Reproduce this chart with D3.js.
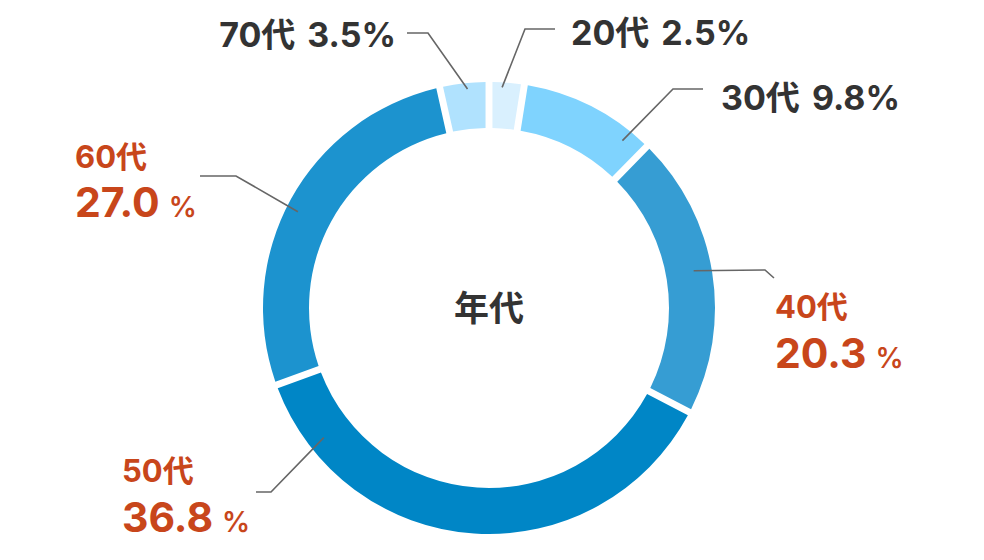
<!DOCTYPE html>
<html><head><meta charset="utf-8">
<script src="https://cdn.jsdelivr.net/npm/d3@7"></script>
<style>
html,body{margin:0;padding:0;background:#fff;}
svg{display:block;}
text{font-family:"Inter","Noto Sans CJK JP",sans-serif;font-weight:700;}
</style></head>
<body>
<svg id="chart" width="984" height="560"></svg>
<script>
// Data
const categories = ["20代","30代","40代","50代","60代","70代"];
const values = [2.5, 9.8, 20.3, 36.8, 27.0, 3.5];
const centerTitle = "年代";

// Styles / layout (kept apart from data)
const colors = ["#d9f0fe","#7fd3fe","#369dd3","#0086c6","#1c93cf","#b0e2fe"];
const highlight = [false,false,true,true,true,false];
const cx = 489, cy = 308, rOuter = 226, rInner = 180;
// per-label: leader anchor angle offset (deg) and radius, elbow, end, text position
const labelLayout = [
  {da:-1.1, r:221, elbow:[525,29], end:[555,29], tx:571, ty:45, anchor:"start"},
  {da:11.9, r:214, elbow:[673,89], end:[703,89], tx:721, ty:110, anchor:"start"},
  {da:-1.2, r:208, elbow:[765,270], end:[774,278], tx:775, ty:[318,368], anchor:"start"},
  {da:48.1, r:210, elbow:[271,492], end:[256,492], tx:122, ty:[482,532], anchor:"start"},
  {da:-2.0, r:214, elbow:[236,176], end:[200,176], tx:75, ty:[168,217], anchor:"start"},
  {da:0.7, r:220, elbow:[428,33], end:[407,33], tx:396, ty:47, anchor:"end"}
];

const svg = d3.select("#chart");
const g = svg.append("g").attr("transform", `translate(${cx},${cy})`);

const pie = d3.pie().sort(null).value(d => d);
const arcs = pie(values);
const arc = d3.arc().innerRadius(rInner).outerRadius(rOuter).padAngle(0.024);

g.selectAll("path.slice").data(arcs).join("path")
  .attr("class","slice")
  .attr("d", arc)
  .attr("fill", (d,i) => colors[i]);

// leader lines
const lineGen = d3.line();
arcs.forEach((a,i) => {
  const L = labelLayout[i];
  const ang = (a.startAngle + a.endAngle)/2 + L.da*Math.PI/180;
  const p0 = [cx + L.r*Math.sin(ang), cy - L.r*Math.cos(ang)];
  svg.append("path")
    .attr("d", lineGen([p0, L.elbow, L.end]))
    .attr("fill","none").attr("stroke","#666").attr("stroke-width",1.6);
});

// labels
categories.forEach((c,i) => {
  const L = labelLayout[i];
  const v = values[i].toFixed(1);
  if (highlight[i]) {
    svg.append("text").attr("x",L.tx).attr("y",L.ty[0])
      .attr("fill","#c8461b").attr("font-size",31).text(c);
    const t = svg.append("text").attr("x",L.tx).attr("y",L.ty[1])
      .attr("fill","#c8461b");
    t.append("tspan").attr("font-size",41).text(v);
    t.append("tspan").attr("font-size",28).attr("font-weight",600).attr("dx",9).text("%");
  } else {
    const t = svg.append("text").attr("x",L.tx).attr("y",L.ty)
      .attr("text-anchor",L.anchor)
      .attr("fill","#333").attr("font-size",34);
    t.append("tspan").text(c);
    t.append("tspan").attr("dx",12).text(`${v}%`);
  }
});

g.append("text").attr("text-anchor","middle").attr("y",13)
  .attr("fill","#333").attr("font-size",35)
  .style("font-family",'"Noto Sans CJK JP",sans-serif').text(centerTitle);
</script>
</body></html>
